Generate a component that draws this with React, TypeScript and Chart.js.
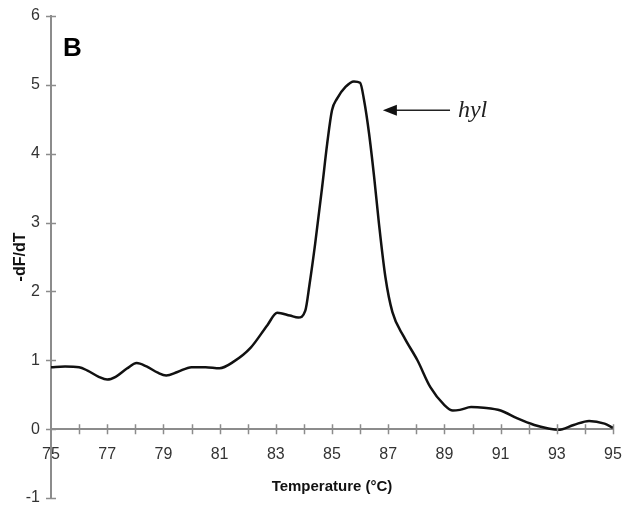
import React, { useEffect, useRef } from "react";
import { Chart, registerables } from "chart.js";

Chart.register(...registerables);

// Temperature (°C)
const temperatures = [
  75.0, 75.5, 76.0, 76.3, 76.7, 77.0, 77.3, 77.7, 78.05, 78.4, 78.8, 79.1, 79.5, 80.0, 80.5, 81.0,
  81.5, 82.1, 82.7, 83.05, 83.5, 83.8, 84.05, 84.2, 84.4, 84.65, 84.83, 85.0, 85.18, 85.48, 85.78,
  86.0, 86.14, 86.32, 86.5, 86.67, 86.9, 87.15, 87.56, 88.04, 88.5, 89.0, 89.3, 89.55, 89.95, 90.4,
  91.0, 91.6, 92.2, 92.7, 93.05, 93.6, 94.15, 94.7, 95.0,
];
// -dF/dT
const dfdt = [
  0.9, 0.91, 0.9, 0.85, 0.76, 0.72, 0.76, 0.88, 0.96, 0.91, 0.82, 0.78, 0.83, 0.9, 0.9, 0.885,
  0.98, 1.18, 1.51, 1.69, 1.65, 1.62, 1.72, 2.1, 2.69, 3.52, 4.15, 4.63, 4.8, 4.97, 5.05,
  5.03, 4.78, 4.29, 3.66, 2.99, 2.21, 1.7, 1.34, 1.0, 0.61, 0.35, 0.27, 0.28, 0.32, 0.31,
  0.27, 0.155, 0.06, 0.01, -0.01, 0.06, 0.12, 0.08, 0.02,
];
const xRange = [75, 95];
const yRange = [-1, 6];
const xTitle = "Temperature (°C)";
const yTitle = "-dF/dT";
const panelLabel = "B";
const peakLabel = "hyl";
// annotation anchors in data units
const arrowTip = { x: 86.81, y: 4.63 };
const arrowTail = { x: 89.2, y: 4.63 };
const peakLabelPos = { x: 89.48, y: 4.63 };
const panelLabelPos = { x: 75.43, y: 5.53 };

const FONT = "'Liberation Sans', Arial, sans-serif";
const AXIS_COLOR = "#8c8c8c";

const decorPlugin = {
  id: "decor",
  afterDraw(chart: any) {
    const { ctx } = chart;
    const xs = chart.scales.x;
    const ys = chart.scales.y;
    const x0 = xs.getPixelForValue(xRange[0]);
    const y0 = ys.getPixelForValue(0);
    ctx.save();
    ctx.strokeStyle = AXIS_COLOR;
    ctx.lineWidth = 1.5;
    ctx.beginPath();
    for (let v = xRange[0] + 1; v <= xRange[1]; v++) {
      const px = Math.round(xs.getPixelForValue(v)) + 0.5;
      ctx.moveTo(px, y0 - 5);
      ctx.lineTo(px, y0 + 5);
    }
    for (let v = yRange[0]; v <= yRange[1]; v++) {
      const py = Math.round(ys.getPixelForValue(v)) + 0.5;
      ctx.moveTo(x0 - 5, py);
      ctx.lineTo(x0 + 5, py);
    }
    ctx.stroke();

    // arrow
    const tx = xs.getPixelForValue(arrowTip.x);
    const ty = ys.getPixelForValue(arrowTip.y);
    const ex = xs.getPixelForValue(arrowTail.x);
    ctx.strokeStyle = "#222";
    ctx.fillStyle = "#111";
    ctx.lineWidth = 1.5;
    ctx.beginPath();
    ctx.moveTo(tx + 12, ty);
    ctx.lineTo(ex, ty);
    ctx.stroke();
    ctx.beginPath();
    ctx.moveTo(tx, ty);
    ctx.lineTo(tx + 14, ty - 5.5);
    ctx.lineTo(tx + 14, ty + 5.5);
    ctx.closePath();
    ctx.fill();

    // hyl label
    ctx.fillStyle = "#222";
    ctx.font = "italic 24px 'Liberation Serif', 'Times New Roman', serif";
    ctx.textAlign = "left";
    ctx.textBaseline = "middle";
    ctx.fillText(peakLabel, xs.getPixelForValue(peakLabelPos.x), ys.getPixelForValue(peakLabelPos.y));

    // panel label
    ctx.fillStyle = "#000";
    ctx.font = "bold 26px 'Liberation Sans', Arial, sans-serif";
    ctx.fillText(panelLabel, xs.getPixelForValue(panelLabelPos.x), ys.getPixelForValue(panelLabelPos.y));
    ctx.restore();
  },
};

const zeroPadding = (s: any) => {
  s.paddingTop = 0;
  s.paddingBottom = 0;
  s.paddingLeft = 0;
  s.paddingRight = 0;
};

export default function App() {
  const ref = useRef<HTMLCanvasElement | null>(null);
  useEffect(() => {
    document.body.style.margin = "0";
    document.body.style.background = "#fff";
    const canvas = ref.current;
    if (!canvas) return;
    const chart = new Chart(canvas, {
      type: "line",
      data: {
        datasets: [
          {
            data: temperatures.map((t, i) => ({ x: t, y: dfdt[i] })),
            borderColor: "#111",
            borderWidth: 2.5,
            pointRadius: 0,
            fill: false,
            cubicInterpolationMode: "monotone",
          },
        ],
      },
      options: {
        animation: false,
        responsive: false,
        maintainAspectRatio: false,
        events: [],
        layout: { padding: { left: 0, right: 20, top: 16, bottom: 8 } },
        plugins: { legend: { display: false }, tooltip: { enabled: false } },
        scales: {
          x: {
            type: "linear",
            min: xRange[0],
            max: xRange[1],
            position: { y: 0 } as any,
            afterFit: (s: any) => {
              s.height = 69;
              zeroPadding(s);
            },
            grid: { display: false, drawTicks: false },
            border: { display: true, color: AXIS_COLOR, width: 2 },
            ticks: {
              stepSize: 1,
              autoSkip: false,
              maxRotation: 0,
              padding: 16,
              color: "#333",
              font: { family: FONT, size: 16 },
              callback: (v: any) => (Math.round(v) % 2 === 1 ? String(v) : ""),
            },
            title: {
              display: true,
              text: xTitle,
              color: "#111",
              font: { family: FONT, size: 15, weight: "bold" },
              padding: { top: 0, bottom: 2 },
            },
          },
          y: {
            min: yRange[0],
            max: yRange[1],
            afterFit: (s: any) => {
              s.width = 51;
              zeroPadding(s);
            },
            grid: { display: false, drawTicks: false },
            border: { display: true, color: AXIS_COLOR, width: 2 },
            ticks: {
              stepSize: 1,
              padding: 11,
              color: "#333",
              font: { family: FONT, size: 16 },
            },
            title: {
              display: true,
              text: yTitle,
              color: "#111",
              font: { family: FONT, size: 16, weight: "bold" },
              padding: { top: 11, bottom: 0 },
            },
          },
        },
      },
      plugins: [decorPlugin],
    });
    return () => chart.destroy();
  }, []);
  return <canvas ref={ref} width={633} height={506} style={{ display: "block" }} />;
}
